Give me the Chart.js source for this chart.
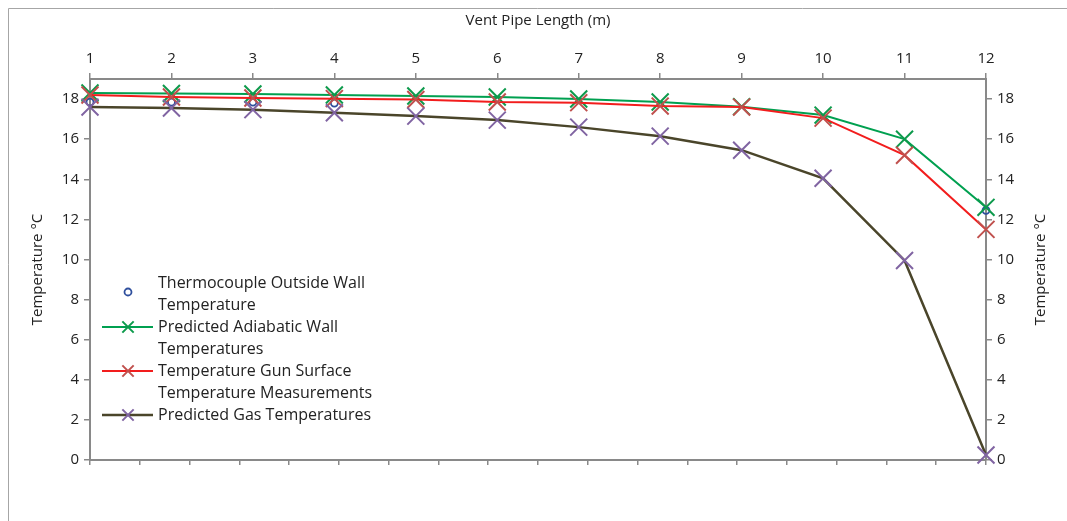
<!DOCTYPE html>
<html>
<head>
<meta charset="utf-8">
<script src="https://cdn.jsdelivr.net/npm/chart.js@4/dist/chart.umd.min.js"></script>
<style>
  html, body { margin: 0; padding: 0; background: #fff; }
  #wrap { width: 1067px; height: 521px; position: relative; }
</style>
</head>
<body>
<div id="wrap"><canvas id="ventChart" width="1067" height="521"></canvas></div>
<script>
// values
const pipeLengths = [1, 2, 3, 4, 5, 6, 7, 8, 9, 10, 11, 12];
const thermocoupleWall = [17.85, 17.85, 17.85, 17.8, null, null, null, null, null, null, null, 12.45];
const adiabaticWall = [18.3, 18.28, 18.25, 18.2, 18.15, 18.1, 18.0, 17.85, 17.62, 17.2, 16.0, 12.6];
const gunSurface = [18.2, 18.1, 18.05, 18.02, 17.98, 17.85, 17.82, 17.65, 17.6, 17.05, 15.2, 11.5];
const gasTemps = [17.6, 17.55, 17.47, 17.32, 17.15, 16.95, 16.6, 16.15, 15.45, 14.05, 9.95, 0.25];
const seriesNames = [
    ["Thermocouple Outside Wall", "Temperature"],
    ["Predicted Adiabatic Wall", "Temperatures"],
    ["Temperature Gun Surface", "Temperature Measurements"],
    ["Predicted Gas Temperatures"]
];
const yTicks = [0, 2, 4, 6, 8, 10, 12, 14, 16, 18];
const yTitle = "Temperature °C";

const FONT = "'Open Sans', sans-serif";
const AXIS_GREY = "#898989";
const TEXT = "#222222";

function pts(values) {
    return pipeLengths.map((x, i) => ({ x: x, y: values[i] }));
}

// outer chart frame (left + top edges visible in the reference)
const framePlugin = {
    id: "frame",
    beforeDraw(chart) {
        const c = chart.ctx;
        c.save();
        c.strokeStyle = "#a6a6a6";
        c.lineWidth = 1;
        c.beginPath();
        c.moveTo(8.5, 521);
        c.lineTo(8.5, 8.5);
        c.lineTo(1067, 8.5);
        c.stroke();
        c.restore();
    }
};

// both vertical titles read bottom-to-top, like Excel
const sideTitles = {
    id: "sideTitles",
    afterDraw(chart) {
        const c = chart.ctx;
        const midY = (chart.chartArea.top + chart.chartArea.bottom) / 2;
        c.save();
        c.font = "15px " + FONT;
        c.fillStyle = TEXT;
        c.textAlign = "center";
        c.textBaseline = "middle";
        [38, 1041].forEach(x => {
            c.save();
            c.translate(x, midY);
            c.rotate(-Math.PI / 2);
            c.fillText(yTitle, 0, 0);
            c.restore();
        });
        c.restore();
    }
};

// legend drawn inside the plot, Excel style with wrapped labels
const insideLegend = {
    id: "insideLegend",
    afterDraw(chart) {
        const c = chart.ctx;
        const left = chart.chartArea.left;
        c.save();
        c.font = "16px " + FONT;
        c.textBaseline = "middle";
        chart.data.datasets.forEach((ds, i) => {
            const rowY = 283 + i * 44;
            const symY = i === 0 ? rowY + 9 : rowY;
            if (ds.showLine !== false) {
                c.strokeStyle = ds.borderColor;
                c.lineWidth = ds.borderWidth;
                c.beginPath();
                c.moveTo(left + 12, symY);
                c.lineTo(left + 63, symY);
                c.stroke();
            }
            c.strokeStyle = ds.pointBorderColor;
            c.fillStyle = "rgba(255,255,255,0)";
            c.lineWidth = ds.pointBorderWidth;
            Chart.helpers.drawPoint(c, {
                pointStyle: ds.pointStyle,
                radius: ds.pointStyle === "circle" ? 3.5 : 8,
                borderWidth: ds.pointBorderWidth
            }, left + 38, symY);
            c.fillStyle = TEXT;
            seriesNames[i].forEach((line, k) => {
                c.fillText(line, left + 68, rowY + k * 22);
            });
        });
        c.restore();
    }
};

const ctx = document.getElementById("ventChart").getContext("2d");
new Chart(ctx, {
    type: "line",
    data: {
        datasets: [
            {
                label: seriesNames[0].join(" "),
                data: pts(thermocoupleWall),
                showLine: false,
                pointStyle: "circle",
                pointRadius: 3.5,
                pointBorderWidth: 1.8,
                pointBorderColor: "#2f4f9d",
                pointBackgroundColor: "rgba(255,255,255,0)",
                borderColor: "#2f4f9d",
                borderWidth: 0,
                clip: false,
                order: 4
            },
            {
                label: seriesNames[1].join(" "),
                data: pts(adiabaticWall),
                borderColor: "#00a050",
                borderWidth: 2,
                pointStyle: "crossRot",
                pointRadius: 12,
                pointBorderWidth: 2,
                pointBorderColor: "#0d9a4c",
                tension: 0,
                clip: false,
                order: 3
            },
            {
                label: seriesNames[2].join(" "),
                data: pts(gunSurface),
                borderColor: "#f21d1d",
                borderWidth: 2,
                pointStyle: "crossRot",
                pointRadius: 12,
                pointBorderWidth: 2,
                pointBorderColor: "#c0504d",
                tension: 0,
                clip: false,
                order: 2
            },
            {
                label: seriesNames[3].join(" "),
                data: pts(gasTemps),
                borderColor: "#4a452a",
                borderWidth: 2.5,
                pointStyle: "crossRot",
                pointRadius: 12,
                pointBorderWidth: 2,
                pointBorderColor: "#8064a2",
                tension: 0,
                clip: false,
                order: 1
            }
        ]
    },
    options: {
        responsive: false,
        animation: false,
        events: [],
        layout: { padding: { left: 8, right: 0, top: 8, bottom: 56 } },
        plugins: { legend: { display: false }, tooltip: { enabled: false } },
        scales: {
            x: {
                type: "linear",
                position: "top",
                min: 1,
                max: 12,
                afterBuildTicks: s => { s.ticks = pipeLengths.map(v => ({ value: v })); },
                afterFit: s => { s.height = 71; },
                grid: { drawOnChartArea: false, tickLength: 6, color: AXIS_GREY, lineWidth: 1.5 },
                border: { color: AXIS_GREY, width: 2 },
                ticks: { color: TEXT, font: { family: FONT, size: 15 }, padding: 5, maxRotation: 0 },
                title: { display: true, text: "Vent Pipe Length (m)", color: TEXT, font: { family: FONT, size: 15 }, padding: { top: 4, bottom: 3 } }
            },
            xMinor: {
                type: "linear",
                position: "bottom",
                min: 0,
                max: 18,
                afterBuildTicks: s => {
                    const t = [];
                    for (let v = 0; v <= 18; v++) t.push({ value: v });
                    s.ticks = t;
                },
                afterFit: s => { s.height = 5; },
                grid: { drawOnChartArea: false, tickLength: 5, color: AXIS_GREY, lineWidth: 1.5 },
                border: { color: AXIS_GREY, width: 2 },
                ticks: { display: false }
            },
            y: {
                position: "left",
                min: 0,
                max: 19,
                afterBuildTicks: s => { s.ticks = yTicks.map(v => ({ value: v })); },
                afterFit: s => { s.width = 82; },
                grid: { drawOnChartArea: false, tickLength: 6, color: AXIS_GREY, lineWidth: 1.5 },
                border: { color: AXIS_GREY, width: 2 },
                ticks: { color: TEXT, font: { family: FONT, size: 15 }, padding: 5 }
            },
            yRight: {
                position: "right",
                min: 0,
                max: 19,
                afterBuildTicks: s => { s.ticks = yTicks.map(v => ({ value: v })); },
                afterFit: s => { s.width = 81; },
                grid: { drawOnChartArea: false, tickLength: 6, color: AXIS_GREY, lineWidth: 1.5 },
                border: { color: AXIS_GREY, width: 2 },
                ticks: { color: TEXT, font: { family: FONT, size: 15 }, padding: 5 }
            }
        }
    },
    plugins: [framePlugin, sideTitles, insideLegend]
});
</script>
</body>
</html>
